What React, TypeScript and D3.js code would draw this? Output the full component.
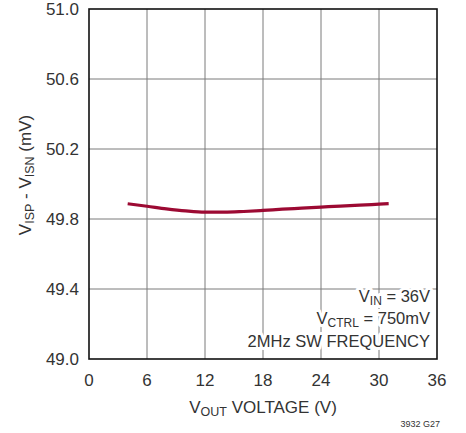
import React from 'react';
import * as d3 from 'd3';

// values
const voutV = [4, 6, 8, 10, 12, 14, 16, 18, 20, 22, 24, 26, 28, 30, 31];
const senseMv = [49.887, 49.873, 49.858, 49.846, 49.839, 49.839, 49.843, 49.849, 49.856, 49.862, 49.868, 49.874, 49.879, 49.885, 49.888];
const xTicks = [0, 6, 12, 18, 24, 30, 36];
const yTicks = [49.0, 49.4, 49.8, 50.2, 50.6, 51.0];

const W = 466, H = 433;
const left = 89, right = 437, top = 9, bottom = 359;
const FONT = "'Liberation Sans', Arial, sans-serif";
const ink = '#333';

export default function App() {
  const x = d3.scaleLinear().domain([0, 36]).range([left, right]);
  const y = d3.scaleLinear().domain([49, 51]).range([bottom, top]);

  const line = d3.line<number>()
    .x((d, i) => x(voutV[i]))
    .y(d => y(d))
    .curve(d3.curveMonotoneX);

  const halo = { stroke: 'white', strokeWidth: 6, paintOrder: 'stroke' as const, strokeLinejoin: 'round' as const };

  return (
    <svg width={W} height={H} style={{ position: 'absolute', left: 0, top: 0, background: 'white' }} fontFamily={FONT}>
      {/* grid */}
      {xTicks.slice(1, -1).map(t => (
        <line key={'gx' + t} x1={x(t)} x2={x(t)} y1={top} y2={bottom} stroke="#7a7a7a" strokeWidth={1} />
      ))}
      {yTicks.slice(1, -1).map(t => (
        <line key={'gy' + t} x1={left} x2={right} y1={y(t)} y2={y(t)} stroke="#7a7a7a" strokeWidth={1} />
      ))}

      {/* legend text, with white halo over the grid */}
      <g fontSize={16.5} fill={ink} textAnchor="end" style={halo}>
        <text x={430} y={302}>V<tspan fontSize={12} dy={3}>IN</tspan><tspan dy={-3}> = 36V</tspan></text>
        <text x={430} y={324}>V<tspan fontSize={12} dy={3}>CTRL</tspan><tspan dy={-3}> = 750mV</tspan></text>
        <text x={430} y={347}>2MHz SW FREQUENCY</text>
      </g>

      {/* curve */}
      <path d={line(senseMv) || ''} fill="none" stroke="#9c0a33" strokeWidth={3.2} />

      {/* frame */}
      <rect x={left} y={top} width={right - left} height={bottom - top} fill="none" stroke="#111" strokeWidth={1.6} />

      {/* y ticks */}
      <g fontSize={17} fill={ink} textAnchor="end">
        {yTicks.map(t => (
          <text key={'yt' + t} x={79} y={y(t) + 6}>{t.toFixed(1)}</text>
        ))}
      </g>
      {/* x ticks */}
      <g fontSize={17} fill={ink} textAnchor="middle">
        {xTicks.map(t => (
          <text key={'xt' + t} x={x(t)} y={386}>{t}</text>
        ))}
      </g>

      {/* axis titles */}
      <text x={263} y={413} fontSize={17} fill={ink} textAnchor="middle">
        V<tspan fontSize={12.5} dy={3}>OUT</tspan><tspan dy={-3}> VOLTAGE (V)</tspan>
      </text>
      <text transform={`translate(31, 175) rotate(-90)`} fontSize={17} fill={ink} textAnchor="middle">
        V<tspan fontSize={12.5} dy={3}>ISP</tspan><tspan dy={-3}> - V</tspan><tspan fontSize={12.5} dy={3}>ISN</tspan><tspan dy={-3}> (mV)</tspan>
      </text>

      <text x={440} y={427} fontSize={9} fill={ink} textAnchor="end">3932 G27</text>
    </svg>
  );
}
